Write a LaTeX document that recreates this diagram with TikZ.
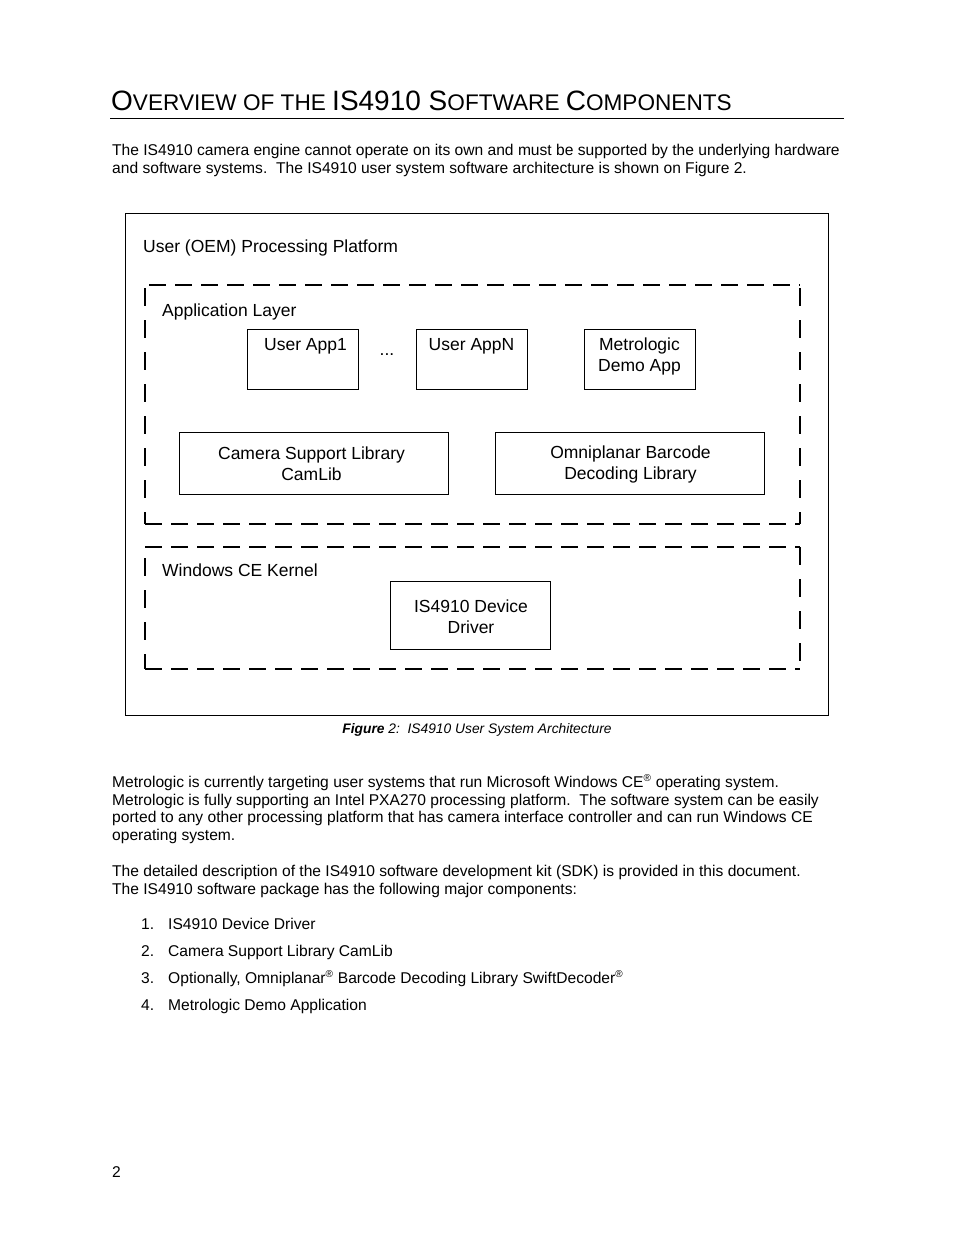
\documentclass[tikz,border=0pt]{standalone}
\usepackage{fontspec}
\setmainfont{Liberation Sans}
\newcommand{\HdBig}[1]{{\fontsize{28}{30}\selectfont #1}}
\newcommand{\HdSm}[1]{{\fontsize{22.6}{24}\selectfont #1}}
\newcommand{\RegMark}{\textsuperscript{\fontsize{10}{10}\selectfont ®}}
\begin{document}
\begin{tikzpicture}[x=1pt,y=-1pt,
  body/.style={anchor=base west,inner sep=0pt,font=\fontsize{15.6}{18}\selectfont},
  lbl/.style={inner sep=0pt,font=\fontsize{17.5}{21}\selectfont,align=center},
  box/.style={draw,line width=0.9pt,inner sep=0pt,font=\fontsize{17.5}{21}\selectfont,align=center},
  hdash/.style={line width=1.8pt,dash pattern=on 17pt off 9pt},
  vdash/.style={line width=1.8pt,dash pattern=on 18pt off 14pt}]
\useasboundingbox[fill=white] (0,0) rectangle (954,1235);
% heading
\node[anchor=base west,inner sep=0pt] (head) at (111,110) {\HdBig{O}\HdSm{VERVIEW OF THE }\HdBig{IS4910 S}\HdSm{OFTWARE }\HdBig{C}\HdSm{OMPONENTS}};
\coordinate (hl1) at (110,118);
\coordinate (hl2) at (844,118);
\draw[line width=0.9pt] (hl1) -- (hl2);
% intro
\node[body] (p1a) at (112,155) {The IS4910 camera engine cannot operate on its own and must be supported by the underlying hardware};
\node[body] (p1b) at (112,173) {and software systems.\ \ The IS4910 user system software architecture is shown on Figure 2.};
% figure frame
\node[draw,line width=0.9pt,minimum width=703,minimum height=502,inner sep=0pt] (frame) at (476.5,464) {};
\node[lbl,anchor=base west] (plat) at (143,252) {User (OEM) Processing Platform};
% application layer dashed box
\coordinate (a1) at (149,285); \coordinate (a2) at (800,285);
\coordinate (a3) at (800,288); \coordinate (a4) at (800,524);
\coordinate (a5) at (145,288); \coordinate (a6) at (145,524);
\draw[hdash] (a1) -- (a2);
\draw[vdash] (a3) -- (a4);
\draw[vdash] (a5) -- (a6);
\draw[hdash] (a6) -- (a4);
\node[lbl,anchor=base west] (applbl) at (162,316) {Application Layer};
\node[box,minimum width=111,minimum height=60] (app1) at (302.5,359) {};
\node[lbl,anchor=base] (app1t) at ([xshift=3pt,yshift=-22pt]app1.north) {User App1};
\node[lbl] (dots) at (387,355) {...};
\node[box,minimum width=111,minimum height=60] (appn) at (471.5,359) {};
\node[lbl,anchor=base] (appnt) at ([yshift=-22pt]appn.north) {User AppN};
\node[box,minimum width=111,minimum height=60] (demo) at (639.5,359) {};
\node[lbl] (demot) at (639.5,356) {Metrologic\\Demo App};
\node[box,minimum width=269,minimum height=62] (cam) at (313.5,463) {};
\node[lbl] (camt) at (311.5,464) {Camera Support Library\\CamLib};
\node[box,minimum width=269,minimum height=62] (omni) at (629.5,463) {};
\node[lbl] (omnit) at (630.5,464) {Omniplanar Barcode\\Decoding Library};
% windows ce kernel dashed box
\coordinate (w1) at (145,547); \coordinate (w2) at (800,547);
\coordinate (w3) at (800,669); \coordinate (w4) at (145,558);
\coordinate (w5) at (145,669);
\draw[hdash] (w1) -- (w2);
\draw[vdash] (w2) -- (w3);
\draw[vdash] (w4) -- (w5);
\draw[hdash] (w5) -- (w3);
\node[lbl,anchor=base west] (wcelbl) at (162,576) {Windows CE Kernel};
\node[box,minimum width=160,minimum height=68] (drv) at (470,615) {};
\node[lbl] (drvt) at (471,617) {IS4910 Device\\Driver};
% caption
\node[anchor=base,inner sep=0pt,font=\fontsize{13.8}{15}\selectfont\itshape] (cap) at (477,733) {\textbf{Figure} 2:\ \ IS4910 User System Architecture};
% body
\node[body] (p2a) at (112,787) {Metrologic is currently targeting user systems that run Microsoft Windows CE\RegMark{} operating system.};
\node[body] (p2b) at (112,805) {Metrologic is fully supporting an Intel PXA270 processing platform.\ \ The software system can be easily};
\node[body] (p2c) at (112,822) {ported to any other processing platform that has camera interface controller and can run Windows CE};
\node[body] (p2d) at (112,840) {operating system.};
\node[body] (p3a) at (112,876) {The detailed description of the IS4910 software development kit (SDK) is provided in this document.};
\node[body] (p3b) at (112,894) {The IS4910 software package has the following major components:};
% list
\node[body] (n1) at (141,929) {1.};
\node[body] (l1) at (168,929) {IS4910 Device Driver};
\node[body] (n2) at (141,956) {2.};
\node[body] (l2) at (168,956) {Camera Support Library CamLib};
\node[body] (n3) at (141,983) {3.};
\node[body] (l3) at (168,983) {Optionally, Omniplanar\RegMark{} Barcode Decoding Library SwiftDecoder\RegMark};
\node[body] (n4) at (141,1010) {4.};
\node[body] (l4) at (168,1010) {Metrologic Demo Application};
% page number
\node[body] (pg) at (112,1177) {2};
\end{tikzpicture}
\end{document}
